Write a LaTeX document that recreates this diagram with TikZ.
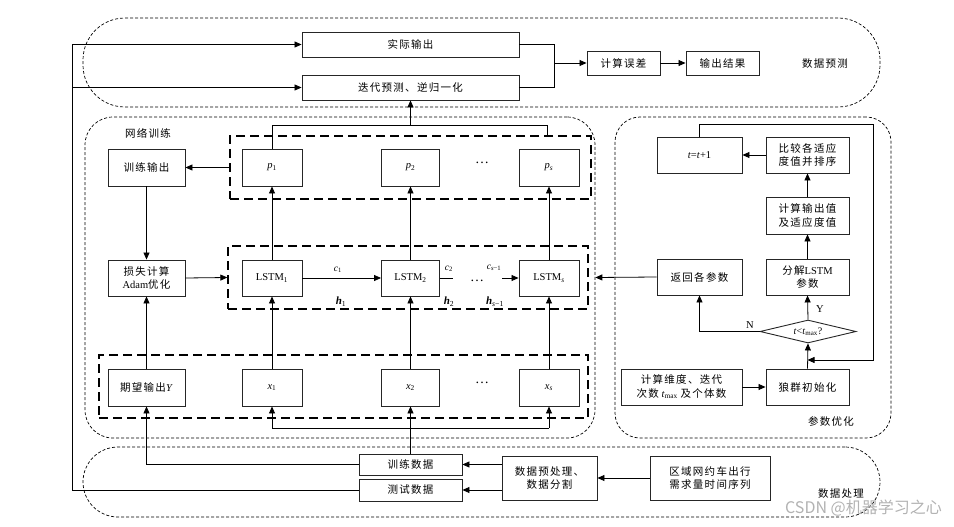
\documentclass[tikz,border=0pt]{standalone}
\usepackage{fontspec}
\setmainfont{Liberation Serif}
\newfontfamily\cjk[LetterSpace=12]{Noto Sans CJK SC}
\newfontfamily\wmfont{Noto Sans CJK SC}
\usetikzlibrary{arrows.meta,shapes.geometric}
\newcommand\sbs[1]{\textsubscript{#1}}
\begin{document}
\begin{tikzpicture}[x=1pt,y=-1pt,
  box/.style={draw=black!85, line width=0.9pt, align=center, inner sep=1pt,
    font=\fontsize{10.5}{13.5}\selectfont},
  con/.style={line width=0.8pt},
  arr/.style={con,-{Triangle[length=7pt,width=6pt]}},
  region/.style={draw, line width=0.7pt, dash pattern=on 3pt off 2pt},
  grp/.style={draw, line width=1.3pt, dash pattern=on 9pt off 5pt},
  lbl/.style={font=\fontsize{10.5}{13}\selectfont, inner sep=1pt},
  small/.style={font=\fontsize{9.5}{11}\selectfont, inner sep=1pt},
  hlab/.style={font=\fontsize{11}{12}\selectfont, inner sep=1pt},
  dots/.style={font=\fontsize{14}{14}\selectfont, inner sep=0pt}
]
\useasboundingbox (0,0) rectangle (954,527);

% regions
\node (pred) [region, rounded corners=42pt, minimum width=797, minimum height=89] at (481.5,62.5) {};
\node (net) [region, rounded corners=28pt, minimum width=510, minimum height=321] at (340,277.5) {};
\node (opt) [region, rounded corners=25pt, minimum width=276, minimum height=321] at (753,277.5) {};
\node (proc) [region, rounded corners=35pt, minimum width=797, minimum height=70] at (481.5,482) {};

% inner groups
\node (gp) [grp, minimum width=361, minimum height=63] at (410.5,167.5) {};
\node (gl) [grp, minimum width=360, minimum height=63] at (408,277.5) {};
\node (gx) [grp, minimum width=489, minimum height=63] at (343.5,386.5) {};

% labels of regions
\node (lpred) [lbl] at (825,64) {\cjk 数据预测};
\node (lnet) [lbl] at (148,133) {\cjk 网络训练};
\node (lopt) [lbl] at (831,421) {\cjk 参数优化};
\node (lproc) [lbl] at (841,494) {\cjk 数据处理};

% prediction boxes
\node (out) [box, minimum width=217, minimum height=25] at (410.5,44.5) {\cjk 实际输出};
\node (iter) [box, minimum width=217, minimum height=25] at (410.5,87.5) {\cjk 迭代预测、逆归一化};
\node (err) [box, minimum width=73, minimum height=24] at (623.5,63) {\cjk 计算误差};
\node (res) [box, minimum width=73, minimum height=24] at (722.5,63) {\cjk 输出结果};

% network training boxes
\node (tout) [box, minimum width=77, minimum height=37] at (146.5,167.5) {\cjk 训练输出};
\node (p1) [box, minimum width=60, minimum height=37] at (272,167.5) {\textit{p}\sbs{1}};
\node (p2) [box, minimum width=58, minimum height=37] at (410.5,167.5) {\textit{p}\sbs{2}};
\node (ps) [box, minimum width=60, minimum height=37] at (549,167.5) {\textit{p}\sbs{\textit{s}}};
\node (pdots) [dots] at (482,163) {…};

\node (loss) [box, minimum width=77, minimum height=36] at (146.5,278) {{\cjk 损失计算}\\Adam{\cjk 优化}};
\node (l1) [box, minimum width=60, minimum height=36] at (272,278) {LSTM\sbs{1}};
\node (l2) [box, minimum width=58, minimum height=36] at (410.5,278) {LSTM\sbs{2}};
\node (ls) [box, minimum width=60, minimum height=36] at (549,278) {LSTM\sbs{\textit{s}}};
\node (ldots) [dots] at (477,281) {…};

\node (yexp) [box, minimum width=77, minimum height=37] at (146.5,387.5) {{\cjk 期望输出}\textit{Y}};
\node (x1) [box, minimum width=60, minimum height=37] at (272,387.5) {\textit{x}\sbs{1}};
\node (x2) [box, minimum width=58, minimum height=37] at (410.5,387.5) {\textit{x}\sbs{2}};
\node (xs) [box, minimum width=60, minimum height=37] at (549,387.5) {\textit{x}\sbs{\textit{s}}};
\node (xdots) [dots] at (482,383) {…};

% optimisation boxes
\node (tinc) [box, minimum width=85, minimum height=36] at (699.5,155) {\textit{t}=\textit{t}+1};
\node (cmp) [box, minimum width=83, minimum height=36] at (807.5,155) {\cjk 比较各适应\\\cjk 度值并排序};
\node (calc) [box, minimum width=83, minimum height=37] at (807.5,215.5) {\cjk 计算输出值\\\cjk 及适应度值};
\node (dec) [box, minimum width=83, minimum height=36] at (807.5,277) {{\cjk 分解}LSTM\\\cjk 参数};
\node (ret) [box, minimum width=85, minimum height=36] at (699.5,277) {\cjk 返回各参数};
\node (dia) [draw=black!85, line width=0.9pt, diamond, aspect=4.2, inner sep=0pt,
  minimum width=96, minimum height=23, font=\fontsize{10}{12}\selectfont] at (808,331.5)
  {\textit{t}<\textit{t}\sbs{max}?};
\node (init) [box, minimum width=83, minimum height=36] at (807.5,387) {\cjk 狼群初始化};
\node (dim) [box, minimum width=121, minimum height=36] at (681.5,387) {{\cjk 计算维度、迭代}\\{\cjk 次数} \textit{t}\sbs{max} {\cjk 及个体数}};

% data processing boxes
\node (train) [box, minimum width=103, minimum height=21] at (410.5,464.5) {\cjk 训练数据};
\node (test) [box, minimum width=103, minimum height=22] at (410.5,490) {\cjk 测试数据};
\node (prep) [box, minimum width=95, minimum height=44] at (549.5,478) {\cjk 数据预处理、\\\cjk 数据分割};
\node (src) [box, minimum width=120, minimum height=44] at (710,478) {\cjk 区域网约车出行\\\cjk 需求量时间序列};

% watermark
\node (wm) [anchor=east, text=black!30, font=\wmfont\fontsize{16}{18}\selectfont, inner sep=0pt] at (942,508) {CSDN @机器学习之心};

% ---------- connectors ----------
\coordinate (L) at (72,0);
\draw[con] (test.west) -- (L |- test.west) -- (L |- out.west);
\draw[arr] (L |- out.west) -- (out.west);
\draw[arr] (L |- iter.west) -- (iter.west);

\coordinate (J) at (554,0);
\draw[con] (out.east) -- (J |- out.east) -- (J |- iter.east) -- (iter.east);
\draw[arr] (J |- err.west) -- (err.west);
\draw[arr] (err.east) -- (res.west);

% p bus
\coordinate (pbL) at (272,125);
\coordinate (pbR) at (547,125);
\draw[con] (p1.north) -- (pbL) -- (pbR) -- (pbR |- gp.north);
\draw[arr] (iter.south |- pbL) -- (iter.south);

\draw[arr] (gp.west) -- (tout.east);
\draw[arr] (tout.south) -- (loss.north);
\draw[arr] (yexp.north) -- (loss.south);
\draw[arr] (loss.east) -- (gl.west);

\draw[arr] (l1.north) -- (p1.south);
\draw[arr] (l2.north) -- (p2.south);
\draw[arr] (ls.north) -- (ps.south);
\draw[arr] (x1.north) -- (l1.south);
\draw[arr] (x2.north) -- (l2.south);
\draw[arr] (xs.north) -- (ls.south);

\draw[arr] (l1.east) -- (l2.west);
\coordinate (d1) at (453,278);
\coordinate (d2) at (502,278);
\draw[con] (l2.east) -- (d1);
\draw[arr] (d2) -- (ls.west);
\node (c1) [small] at (338,270) {\textit{c}\sbs{1}};
\node (c2) [small] at (449,269) {\textit{c}\sbs{2}};
\node (cs) [small] at (494,268) {\textit{c}\sbs{\textit{s}−1}};
\node (h1) [hlab] at (341,302) {\textbf{\textit{h}}\sbs{1}};
\node (h2) [hlab] at (449,302) {\textbf{\textit{h}}\sbs{2}};
\node (hs) [hlab] at (495,302) {\textbf{\textit{h}}\sbs{\textit{s}−1}};

% inputs from training data
\coordinate (xb) at (0,428);
\draw[arr] (train.north) -- (x2.south);
\draw[con] (x1.south |- xb) -- (xs.south |- xb);
\draw[arr] (x1.south |- xb) -- (x1.south);
\draw[arr] (xs.south |- xb) -- (xs.south);
\draw[arr] (train.west) -- (yexp.south |- train.west) -- (yexp.south);

% data processing
\draw[arr] (prep.west |- train.east) -- (train.east);
\draw[arr] (prep.west |- test.east) -- (test.east);
\draw[arr] (src.west) -- (prep.east);

% optimisation
\draw[arr] (cmp.west) -- (tinc.east);
\draw[arr] (calc.north) -- (cmp.south);
\draw[arr] (dec.north) -- (calc.south);
\draw[arr] (dia.north) -- (dec.south);
\node (ylab) [lbl] at (820,309) {Y};
\draw[arr] (dia.west) -- (ret.south |- dia.west) -- (ret.south);
\node (nlab) [lbl] at (750,325) {N};
\draw[arr] (init.north) -- (dia.south);
\draw[arr] (dim.east) -- (init.west);
\coordinate (lpT) at (873,124);
\coordinate (lpB) at (873,360);
\draw[arr] (tinc.north) -- (tinc.north |- lpT) -- (lpT) -- (lpB) -- (init.north |- lpB);
\draw[arr] (ret.west) -- (net.east);
\end{tikzpicture}
\end{document}
